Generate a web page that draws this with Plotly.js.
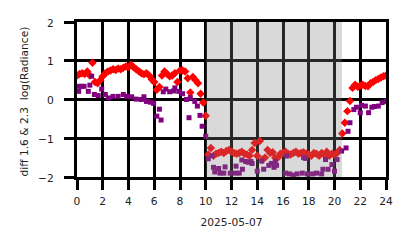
<!DOCTYPE html>
<html>
<head>
<meta charset="utf-8">
<script src="https://cdn.plot.ly/plotly-3.0.1.min.js"></script>
<style>html,body{margin:0;padding:0;background:#fff;}#chart{width:414px;height:248px;}</style>
</head>
<body>
<div id="chart"></div>
<script>
// hours of day (2025-05-07)
const redHours = [0.0,0.2,0.4,0.6,0.8,1.0,1.2,1.4,1.6,1.8,2.0,2.2,2.4,2.6,2.8,3.0,3.2,3.4,3.6,3.8,
  4.0,4.2,4.4,4.6,4.8,5.0,5.2,5.4,5.6,5.8,6.0,6.2,6.4,6.6,6.8,7.0,7.2,7.4,7.6,7.8,
  8.0,8.2,8.4,8.6,8.8,9.0,9.2,9.4,9.6,9.8,10.0,10.2,10.4,10.6,10.8,11.0,11.2,11.4,11.6,11.8,
  12.0,12.2,12.4,12.6,12.8,13.0,13.2,13.4,13.6,13.8,14.0,14.2,14.4,14.6,14.8,15.0,15.2,15.4,15.6,15.8,
  16.0,16.2,16.4,16.6,16.8,17.0,17.2,17.4,17.6,17.8,18.0,18.2,18.4,18.6,18.8,19.0,19.2,19.4,19.6,19.8,
  20.0,20.2,20.4,20.6,20.8,21.0,21.2,21.4,21.6,21.8,22.0,22.2,22.4,22.6,22.8,23.0,23.2,23.4,23.6,23.8,24.0];
const redValues = [0.62,0.66,0.68,0.66,0.72,0.62,0.95,0.45,0.42,0.5,0.6,0.68,0.72,0.75,0.78,0.76,0.8,0.78,0.82,0.85,
  0.84,0.9,0.83,0.78,0.73,0.68,0.65,0.68,0.62,0.52,0.45,0.25,0.32,0.62,0.72,0.66,0.6,0.62,0.68,0.45,
  0.75,0.75,0.72,0.55,0.18,0.58,0.5,0.42,0.15,-0.08,-0.42,-1.42,-1.25,-1.45,-1.4,-1.38,-1.35,-1.38,-1.33,-1.3,
  -1.35,-1.38,-1.4,-1.38,-1.35,-1.4,-1.42,-1.45,-1.3,-1.12,-1.45,-1.07,-1.55,-1.5,-1.3,-1.38,-1.36,-1.5,-1.5,-1.4,
  -1.38,-1.35,-1.4,-1.42,-1.38,-1.35,-1.4,-1.38,-1.36,-1.4,-1.42,-1.45,-1.38,-1.4,-1.45,-1.38,-1.42,-1.35,-1.45,-1.4,
  -1.42,-1.38,-1.3,-0.88,-0.6,-0.3,-0.04,0.3,0.38,0.33,0.36,0.38,0.35,0.34,0.42,0.45,0.5,0.53,0.57,0.6,0.62];

const purpleHours = [0.13,0.15,0.35,0.55,0.88,1.0,1.14,1.35,1.65,1.92,2.2,2.44,2.8,3.2,3.6,3.85,4.25,4.6,5.0,5.2,
  5.4,5.7,5.95,6.2,6.4,6.53,6.7,6.9,7.2,7.5,7.6,7.9,8.2,8.5,8.7,8.8,9.15,9.35,9.55,9.72,
  10.0,10.2,10.5,10.6,10.7,11.0,11.1,11.4,11.5,11.9,12.3,12.35,12.6,12.8,12.85,13.1,13.3,13.5,13.6,14.0,
  14.35,14.5,14.9,15.1,15.3,15.4,15.5,16.2,16.3,16.5,16.8,17.1,17.5,17.6,17.75,17.9,18.3,18.6,19.0,19.1,
  19.3,19.5,19.8,20.0,20.2,20.55,20.9,21.05,21.2,21.5,21.7,22.0,22.1,22.4,22.65,22.9,23.1,23.4,23.7,24.0];
const purpleValues = [0.21,0.34,0.34,0.34,0.21,0.37,0.6,0.13,0.1,0.27,0.13,0.04,0.08,0.08,0.13,0.08,0.07,0.01,0.0,0.07,
  -0.05,-0.07,-0.1,-0.43,-0.25,-0.53,0.2,0.27,0.2,0.22,0.3,0.21,0.15,0.0,-0.47,0.05,-0.05,-0.17,-0.41,-0.69,
  -0.95,-1.53,-1.45,-1.75,-1.87,-1.78,-1.9,-1.9,-1.74,-1.9,-1.9,-1.72,-1.9,-1.56,-1.8,-1.6,-1.62,-1.6,-1.65,-1.85,
  -1.59,-1.8,-1.7,-1.65,-1.75,-1.6,-1.7,-1.9,-1.46,-1.92,-1.95,-1.92,-1.9,-1.5,-1.52,-1.92,-1.92,-1.9,-1.92,-1.8,
  -1.55,-1.8,-1.68,-1.85,-1.55,-1.33,-1.25,-0.82,-0.6,-0.26,-0.2,-0.34,-0.15,-0.17,-0.34,-0.2,-0.18,-0.17,-0.08,-0.05];

const xTicks = [0,2,4,6,8,10,12,14,16,18,20,22,24];
const yTicks = [-2,-1,0,1,2];
const yTickText = ['\u22122','\u22121','0','1','2'];
const nightSpan = [10.0, 20.58];
const dateLabel = '2025-05-07';
const yLabel = 'diff 1.6 &amp; 2.3\u00a0 log(Radiance)';

const FS = 10.67;
const tf = {family: 'DejaVu Sans', size: FS, color: '#222'};

const data = [
  {x: redHours, y: redValues, type: 'scatter', mode: 'markers',
   marker: {symbol: 'diamond', size: 6.5, color: '#ff0000', line: {width: 0}}},
  {x: purpleHours, y: purpleValues, type: 'scatter', mode: 'markers',
   marker: {symbol: 'square', size: 5, color: '#800080', line: {width: 0}}}
];

// y tick labels and y title drawn as annotations for exact placement
const annotations = yTicks.map((v, i) => ({
  xref: 'paper', yref: 'y', x: 0, y: v, xanchor: 'right', yanchor: 'middle',
  xshift: -21, yshift: -1, text: yTickText[i], showarrow: false, font: tf
}));
annotations.push({
  xref: 'paper', yref: 'paper', x: 0, y: 0.5, xanchor: 'center', yanchor: 'middle',
  xshift: -53, yshift: -2, textangle: -90, text: yLabel, showarrow: false, font: tf
});

const layout = {
  width: 414, height: 248,
  margin: {l: 77, r: 28, t: 22, b: 71},
  paper_bgcolor: '#fff', plot_bgcolor: '#fff',
  showlegend: false,
  font: tf,
  xaxis: {
    range: [0, 24], tickvals: xTicks, ticktext: xTicks.map(String),
    showgrid: true, gridcolor: '#000', gridwidth: 3, zeroline: false,
    showline: true, linecolor: '#000', linewidth: 3, mirror: true,
    ticks: 'outside', ticklen: 10, tickwidth: 3, tickcolor: '#000',
    ticklabelstandoff: 2,
    tickfont: tf,
    title: {text: dateLabel, font: tf, standoff: 12}
  },
  yaxis: {
    range: [-2, 2], tickvals: yTicks,
    showgrid: true, gridcolor: '#000', gridwidth: 3, zeroline: false,
    showline: true, linecolor: '#000', linewidth: 3, mirror: true,
    ticks: 'outside', ticklen: 10, tickwidth: 3, tickcolor: '#000',
    showticklabels: false
  },
  annotations: annotations,
  shapes: [
    {type: 'rect', xref: 'x', yref: 'paper', x0: nightSpan[0], x1: nightSpan[1], y0: 0, y1: 1,
     fillcolor: 'rgba(128,128,128,0.3)', line: {width: 0}, layer: 'above'}
  ]
};

Plotly.newPlot('chart', data, layout, {staticPlot: true, displayModeBar: false});
</script>
</body>
</html>
